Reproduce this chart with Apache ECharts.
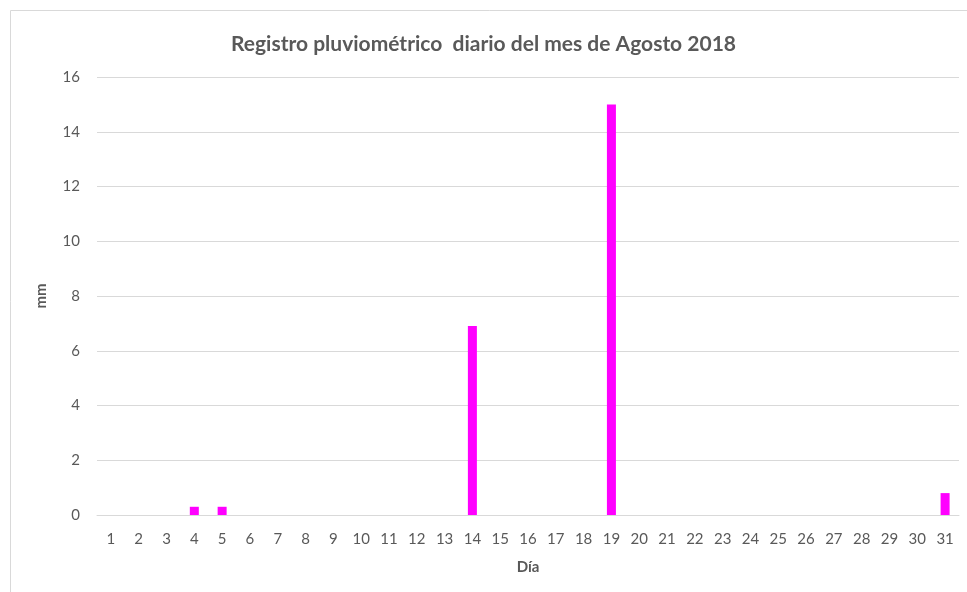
<!DOCTYPE html>
<html>
<head>
<meta charset="utf-8">
<script src="https://cdn.jsdelivr.net/npm/echarts@6/dist/echarts.min.js"></script>
<style>
html,body{margin:0;padding:0;background:#fff;}
#chartmain{width:967px;height:592px;}
</style>
</head>
<body>
<div id="chartmain"></div>
<script>
// días del mes
var dias = [];
for (var d = 1; d <= 31; d++) { dias.push(String(d)); }
// lluvia diaria (mm)
var lluvia = [0, 0, 0, 0.3, 0.3, 0, 0, 0, 0, 0,
              0, 0, 0, 6.9, 0, 0, 0, 0, 15, 0,
              0, 0, 0, 0, 0, 0, 0, 0, 0, 0, 0.8];

var myChart = echarts.init(document.getElementById("chartmain"));
var fuente = "Lato, 'Open Sans', sans-serif";
myChart.setOption({
	animation: false,
	textStyle: { fontFamily: fuente },
	//marco del gráfico
	graphic: [{
		type: 'rect',
		shape: { x: 10.5, y: 10.5, width: 970, height: 600 },
		style: { fill: null, stroke: '#d9d9d9', lineWidth: 1 },
		silent: true
	}],
	title: {
		text: 'Registro pluviométrico  diario del mes de Agosto 2018',
		left: 'center',
		top: 29,
		textStyle: { fontFamily: fuente, fontSize: 21, fontWeight: 'bold', color: '#595959' }
	},
	grid: { left: 97, right: 8, top: 77, bottom: 77 },
	xAxis: {
		type: 'category',
		data: dias,
		name: 'Día',
		nameLocation: 'middle',
		nameGap: 45,
		nameTextStyle: { fontFamily: fuente, fontSize: 15, fontWeight: 'bold', color: '#595959' },
		axisLine: { lineStyle: { color: '#d9d9d9' } },
		axisTick: { show: false },
		axisLabel: { color: '#595959', fontSize: 15, margin: 17, interval: 0 }
	},
	yAxis: {
		type: 'value',
		min: 0,
		max: 16,
		interval: 2,
		name: 'mm',
		nameLocation: 'middle',
		nameGap: 48,
		nameRotate: 90,
		nameTextStyle: { fontFamily: fuente, fontSize: 15, fontWeight: 'bold', color: '#595959' },
		axisLine: { show: false },
		axisTick: { show: false },
		axisLabel: { color: '#595959', fontSize: 15, margin: 17 },
		splitLine: { lineStyle: { color: '#d9d9d9' } }
	},
	series: [{
		name: 'mm',
		type: 'bar',
		data: lluvia,
		barWidth: 9,
		itemStyle: { color: '#ff00ff' }
	}]
});
</script>
</body>
</html>
